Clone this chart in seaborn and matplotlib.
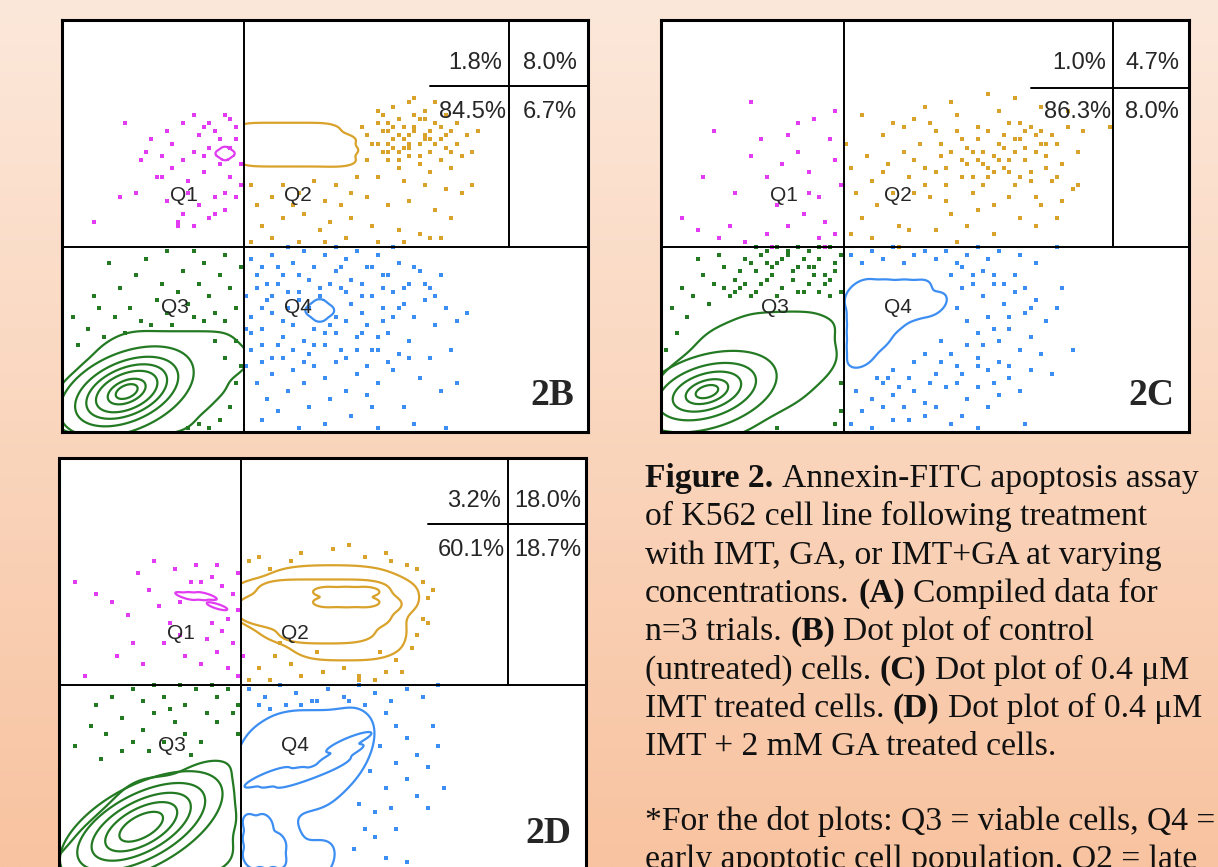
"""
Annexin-FITC / PI dot plots (panels 2B, 2C, 2D) with the figure caption.
Axes run 0-100 on both channels; quadrant gates sit at x=34.6, y=44.9.
"""

import numpy as np
import pandas as pd
import matplotlib
matplotlib.use("Agg")
import matplotlib.pyplot as plt
import seaborn as sns

# ── Data ──────────────────────────────────────────────────────────────────────
# quadrant percentages: [Q1, Q2, Q3, Q4]
PCT_2B = ["1.8%", "8.0%", "84.5%", "6.7%"]
PCT_2C = ["1.0%", "4.7%", "86.3%", "8.0%"]
PCT_2D = ["3.2%", "18.0%", "60.1%", "18.7%"]

# outlier dots, (x, y)
DOTS_2B_Q1 = [(12, 75), (6, 51), (11, 57), (14, 58), (18, 62), (16, 68), (20, 73), (23, 75), (25, 77),
              (27, 74), (28, 75), (29, 73), (31, 77), (32, 76), (33, 71), (32, 69), (28, 69), (25, 68),
              (23, 66), (21, 64), (19, 62), (24, 61), (27, 63), (30, 65), (32, 62), (34, 60), (31, 58),
              (29, 57), (26, 55), (23, 53), (22, 51), (25, 50), (28, 52), (31, 54), (33, 57), (34, 65),
              (22, 50), (29, 53), (19, 67), (15, 66), (27, 67), (30, 71), (33, 74), (26, 72), (21, 70),
              (17, 71), (24, 58), (20, 56)]
DOTS_2B_Q2 = [(57, 74), (58, 72), (59, 70), (60, 75), (61, 68), (62, 73), (63, 71), (64, 76), (65, 69),
              (66, 72), (67, 74), (68, 70), (69, 72), (70, 68), (71, 75), (72, 71), (73, 69), (74, 73),
              (75, 70), (76, 67), (77, 72), (78, 68), (79, 73), (62, 66), (64, 64), (66, 67), (68, 65),
              (70, 63), (72, 66), (74, 64), (60, 78), (63, 79), (66, 80), (69, 78), (71, 80), (67, 81),
              (58, 66), (56, 62), (60, 62), (65, 61), (69, 60), (73, 59), (76, 58), (78, 60), (55, 58),
              (50, 56), (45, 58), (40, 57), (37, 55), (42, 60), (48, 61), (52, 60), (58, 57), (62, 55),
              (66, 56), (71, 54), (74, 52), (38, 50), (42, 52), (46, 53), (51, 51), (55, 52), (59, 50),
              (64, 49), (68, 48), (72, 47), (36, 46), (40, 47), (45, 46), (50, 46), (54, 47), (60, 46),
              (65, 46), (70, 47), (63, 74), (61, 77), (67, 77), (65, 71), (69, 76), (73, 77), (75, 75),
              (62, 70), (64, 68), (36, 60), (44, 55), (53, 55), (49, 49), (60, 70), (61, 73), (62, 75),
              (63, 69), (64, 72), (65, 74), (66, 70), (67, 73), (68, 76), (69, 71), (70, 73), (71, 70),
              (72, 74), (73, 72), (74, 68), (66, 69), (68, 67), (70, 71), (62, 68), (64, 66)]
DOTS_2B_Q3 = [(5, 25), (8, 23), (3, 21), (10, 28), (13, 30), (15, 27), (18, 32), (20, 29), (22, 34),
              (24, 31), (26, 36), (28, 33), (30, 38), (32, 35), (34, 40), (33, 30), (31, 27), (29, 29),
              (27, 27), (25, 28), (21, 26), (17, 26), (12, 24), (7, 30), (11, 35), (14, 38), (19, 36),
              (23, 39), (27, 41), (31, 43), (25, 44), (16, 42), (20, 44), (9, 41), (29, 22), (31, 18),
              (33, 12), (32, 6), (30, 3), (28, 1), (33, 22), (34, 16), (26, 2), (24, 1), (6, 33), (2, 28)]
DOTS_2B_Q4 = [(36, 42), (38, 40), (40, 43), (42, 38), (44, 41), (46, 44), (48, 40), (50, 43), (52, 39),
              (54, 42), (56, 44), (58, 40), (60, 43), (62, 38), (64, 41), (66, 36), (68, 39), (70, 35),
              (72, 38), (37, 35), (39, 32), (41, 36), (43, 30), (45, 34), (47, 37), (53, 35), (55, 31),
              (57, 36), (59, 33), (61, 30), (63, 34), (65, 31), (67, 28), (69, 32), (71, 26), (73, 30),
              (75, 27), (77, 29), (36, 28), (38, 25), (40, 29), (42, 23), (44, 26), (46, 22), (48, 25),
              (50, 21), (52, 24), (54, 27), (56, 23), (58, 26), (60, 20), (62, 24), (64, 19), (66, 22),
              (70, 18), (74, 20), (36, 20), (38, 17), (40, 14), (42, 18), (44, 15), (46, 12), (48, 16),
              (50, 13), (52, 17), (54, 10), (56, 14), (58, 9), (60, 12), (63, 15), (68, 13), (37, 12),
              (39, 8), (41, 5), (43, 10), (47, 6), (51, 8), (55, 4), (59, 6), (65, 6), (72, 10), (75, 12),
              (38, 3), (45, 1), (50, 2), (60, 1), (67, 2), (73, 1), (35, 33), (35, 25), (35, 16), (49, 35),
              (45, 32), (51, 26), (57, 29), (61, 35), (41, 21), (47, 19), (53, 20), (43, 45), (52, 45),
              (63, 45), (37, 38), (39, 36), (41, 40), (43, 34), (45, 38), (47, 30), (49, 33), (51, 36),
              (53, 40), (55, 37), (57, 33), (59, 40), (61, 38), (63, 28), (65, 35), (67, 40), (69, 36),
              (71, 33), (36, 24), (38, 21), (40, 18), (42, 27), (44, 20), (46, 17), (48, 21), (50, 24),
              (52, 28), (54, 18), (56, 20), (58, 16), (60, 23), (62, 17), (64, 30), (66, 18), (38, 30),
              (40, 33), (54, 34), (57, 24), (59, 20), (61, 27)]

DOTS_2C_Q1 = [(17, 80), (10, 73), (4, 52), (8, 62), (13, 50), (14, 58), (17, 67), (20, 62), (22, 55),
              (24, 72), (26, 68), (28, 63), (30, 57), (31, 51), (32, 71), (33, 66), (34, 60), (26, 75),
              (29, 76), (33, 78), (24, 50), (20, 48), (16, 46), (11, 47), (7, 49), (27, 53), (30, 47),
              (33, 48), (23, 65), (19, 71), (21, 45), (31, 45), (28, 58)]
DOTS_2C_Q2 = [(35, 70), (36, 64), (37, 58), (38, 52), (36, 48), (39, 67), (40, 61), (41, 55), (42, 72),
              (43, 65), (44, 58), (45, 50), (46, 68), (47, 62), (48, 76), (49, 70), (50, 64), (51, 57),
              (52, 73), (53, 67), (54, 60), (55, 53), (56, 77), (57, 71), (58, 65), (59, 58), (60, 74),
              (61, 68), (62, 62), (63, 55), (64, 78), (65, 72), (66, 66), (67, 60), (68, 75), (69, 69),
              (70, 63), (71, 57), (72, 73), (73, 67), (74, 61), (75, 70), (76, 65), (77, 74), (78, 59),
              (79, 68), (80, 73), (47, 49), (52, 49), (58, 50), (63, 48), (68, 52), (40, 47), (44, 75),
              (50, 79), (55, 80), (62, 82), (67, 81), (72, 79), (77, 78), (56, 73), (58, 69), (60, 71),
              (62, 73), (64, 70), (66, 75), (68, 71), (70, 74), (72, 70), (74, 72), (65, 64), (67, 68),
              (69, 66), (71, 68), (73, 64), (75, 62), (61, 60), (63, 63), (57, 62), (53, 70), (51, 75),
              (46, 74), (42, 63), (48, 58), (54, 56), (60, 54), (66, 57), (72, 55), (76, 56), (71, 50),
              (75, 52), (45, 45), (56, 46), (38, 77), (85, 74), (79, 60), (55, 68), (57, 66), (59, 68),
              (61, 65), (63, 67), (65, 69), (67, 71), (69, 73), (71, 72), (73, 70), (59, 62), (60, 66),
              (62, 64), (64, 66), (66, 63), (68, 62), (70, 61), (52, 63), (50, 60), (48, 66), (54, 64)]
DOTS_2C_Q3 = [(2, 30), (4, 35), (6, 33), (8, 38), (10, 36), (12, 40), (14, 37), (16, 42), (18, 39),
              (20, 44), (22, 41), (24, 43), (26, 40), (28, 44), (30, 42), (32, 45), (34, 43), (13, 33),
              (15, 35), (17, 33), (19, 36), (21, 38), (23, 35), (25, 37), (27, 34), (29, 38), (31, 36),
              (33, 39), (34, 34), (24, 44), (11, 43), (7, 42), (5, 28), (3, 24), (9, 31), (20, 41),
              (26, 45), (30, 45), (18, 45), (22, 45), (28, 40), (32, 33), (1, 20), (34, 5), (33, 2),
              (22, 1), (34, 12), (15, 39), (17, 41), (19, 43), (21, 40), (23, 42), (25, 39), (27, 42),
              (29, 40), (31, 38), (33, 41), (16, 36), (18, 34), (20, 37), (22, 33), (26, 34), (28, 36),
              (30, 34), (32, 37), (12, 35), (14, 34)]
DOTS_2C_Q4 = [(36, 43), (38, 41), (40, 44), (42, 42), (44, 45), (46, 41), (48, 43), (50, 44), (52, 42),
              (54, 44), (56, 41), (58, 43), (60, 45), (62, 42), (64, 44), (68, 43), (71, 41), (75, 45),
              (55, 38), (57, 35), (59, 38), (61, 33), (63, 36), (65, 31), (67, 34), (69, 29), (71, 32),
              (73, 27), (75, 30), (56, 30), (58, 27), (60, 24), (62, 28), (64, 22), (66, 25), (68, 20),
              (70, 23), (72, 19), (60, 18), (62, 15), (64, 17), (66, 13), (68, 10), (70, 15), (74, 14),
              (52, 14), (54, 11), (56, 16), (58, 8), (60, 11), (62, 6), (64, 9), (42, 12), (44, 9),
              (46, 6), (48, 10), (50, 7), (40, 8), (38, 5), (37, 10), (36, 2), (40, 1), (44, 3), (50, 4),
              (55, 2), (60, 1), (69, 2), (78, 20), (76, 35), (53, 22), (50, 19), (48, 17), (44, 15),
              (41, 13), (57, 40), (59, 36), (61, 39), (63, 38), (65, 36), (67, 38), (69, 35), (70, 30),
              (66, 28), (63, 25), (61, 21), (58, 21), (55, 19), (57, 14), (60, 16), (63, 12), (66, 16),
              (56, 12), (53, 17), (51, 12), (47, 13), (45, 11), (43, 13), (47, 3), (52, 6), (57, 4),
              (42, 6)]

DOTS_2D_Q1 = [(3, 70), (7, 67), (10, 65), (13, 62), (15, 72), (17, 68), (19, 64), (21, 60), (23, 57),
              (25, 70), (27, 70), (29, 60), (31, 58), (33, 55), (18, 75), (22, 73), (26, 74), (29, 71),
              (31, 69), (33, 67), (34, 63), (20, 55), (24, 52), (27, 50), (30, 53), (32, 49), (34, 47),
              (14, 55), (11, 52), (5, 47), (16, 50), (28, 56), (32, 61), (35, 52), (23, 65), (30, 74),
              (34, 72)]
DOTS_2D_Q2 = [(38, 76), (46, 77), (52, 78), (58, 76), (63, 75), (66, 74), (68, 73), (69, 70), (70, 66),
              (69, 61), (68, 57), (67, 54), (64, 51), (62, 48), (60, 46), (57, 47), (54, 49), (50, 48),
              (46, 47), (44, 50), (41, 52), (38, 49), (36, 46), (40, 46), (49, 53), (42, 55), (57, 46),
              (71, 68), (70, 60), (62, 77), (55, 79), (44, 75), (40, 73), (36, 75), (65, 48), (61, 53)]
DOTS_2D_Q3 = [(6, 35), (9, 33), (12, 37), (14, 31), (16, 34), (18, 38), (20, 42), (22, 36), (24, 40),
              (26, 44), (28, 38), (30, 42), (32, 44), (34, 40), (10, 42), (14, 44), (18, 45), (8, 27),
              (12, 29), (17, 29), (20, 31), (24, 33), (27, 31), (30, 36), (33, 38), (21, 39), (25, 28),
              (7, 40), (3, 30), (34, 33), (29, 45), (23, 45), (16, 41)]
DOTS_2D_Q4 = [(36, 44), (39, 42), (42, 45), (45, 43), (48, 41), (51, 44), (54, 42), (57, 45), (60, 43),
              (63, 41), (66, 44), (69, 42), (72, 45), (62, 38), (64, 35), (66, 32), (68, 28), (70, 25),
              (72, 30), (64, 26), (66, 22), (68, 18), (70, 15), (62, 20), (60, 14), (58, 10), (60, 8),
              (64, 10), (56, 5), (62, 3), (66, 2), (38, 40), (40, 39), (43, 40), (46, 40), (49, 41),
              (55, 41), (58, 40), (61, 30), (63, 15), (57, 16), (59, 24), (71, 35), (73, 20)]

# dense populations behind the contour lines, (x, y) or (x, y, weight)
CORE_2B_Q1 = [(30, 67.6), (32, 67.6), (31, 68.5), (31, 66.7)]
CORE_2B_Q2 = [(36, 73.5), (39.5, 73.5), (43, 73.5), (46.5, 73.5), (50, 73.5),
              (36, 71), (39.5, 71), (43, 71), (46.5, 71), (50, 71), (53, 71),
              (36, 68.5), (39.5, 68.5), (43, 68.5), (46.5, 68.5), (50, 68.5), (53.5, 68.5),
              (36, 66), (39.5, 66), (43, 66), (46.5, 66), (50, 66), (53, 66)]
CORE_2B_Q3_OUT = [(2, 2), (5.5, 2), (9, 2), (12.5, 2), (16, 2), (19.5, 2), (22.5, 2),
                  (2, 5.5), (5.5, 5.5), (9, 5.5), (12.5, 5.5), (16, 5.5), (19.5, 5.5), (23, 5.5),
                  (25.5, 6.5),
                  (1, 9), (4, 9), (7.5, 9), (11, 9), (14.5, 9), (18, 9), (21.5, 9), (25, 9), (28.5, 10),
                  (3, 12.5), (7, 12.5), (10.5, 12.5), (14, 12.5), (17.5, 12.5), (21, 12.5), (24.5, 12.5),
                  (28, 12.5), (6, 16), (10, 16), (13.5, 16), (17, 16), (20.5, 16), (24, 16), (27.5, 16),
                  (30.5, 16.5), (32, 15.5), (32, 18),
                  (9, 19.5), (13.5, 19.5), (17, 19.5), (20.5, 19.5), (24, 19.5), (27.5, 19.5), (30.5, 20),
                  (12, 22), (15, 22), (18.5, 22), (22, 22), (25.5, 22), (29, 22)]
CORE_2B_Q3_IN = [(12.3, 9.8, 4), (15.5, 12.1, 2), (9.1, 7.6, 2), (10.9, 11.8, 2), (13.7, 7.8, 2)]
CORE_2B_Q4 = [(47.5, 29.5), (50.5, 29.5), (49, 28), (49, 31)]

CORE_2C_Q3_OUT = [(2, 2), (5.5, 2), (9, 2), (12.5, 2), (15, 2),
                  (2, 5.5), (5.5, 5.5), (9, 5.5), (12.5, 5.5), (16, 5.5), (19.5, 5.5),
                  (2, 9), (5.5, 9), (9, 9), (12.5, 9), (16, 9), (19.5, 9), (23, 9), (24.5, 9.5),
                  (2, 12.5), (5.5, 12.5), (9, 12.5), (12.5, 12.5), (16, 12.5), (19.5, 12.5), (23, 12.5),
                  (26.5, 12.5), (28.5, 14.5),
                  (5, 16), (8.5, 16), (12, 16), (15.5, 16), (19, 16), (22.5, 16), (26, 16), (29.5, 16.5),
                  (9, 19.5), (12.5, 19.5), (16, 19.5), (19.5, 19.5), (23, 19.5), (26.5, 19.5), (29.5, 19.5),
                  (10.5, 23), (14, 23), (17.5, 23), (21, 23), (24.5, 23), (28, 23), (29.5, 24),
                  (16, 26), (20, 26), (23.5, 26), (27, 26)]
CORE_2C_Q3_IN = [(8.7, 9.8, 4), (11.8, 11.3, 2), (5.6, 8.3, 2), (7.8, 11.7, 2), (9.6, 7.9, 2)]
CORE_2C_Q4 = [(38, 18.5), (38, 22), (38, 25.5), (38, 29), (38, 32.5), (38, 34), (41.5, 34), (45, 34),
              (48.5, 34), (51.5, 31), (48, 30), (44.5, 30), (41.5, 30), (41.5, 26), (44, 27), (41, 22.5)]

CORE_2D_Q1 = [(24, 66.5), (26, 66.5), (28, 66.5), (30, 64)]
CORE_2D_Q2_OUT = [(48, 54), (51.5, 54), (55, 54), (58.5, 54), (61, 55),
                  (42, 58), (45.5, 57.5), (49, 57.5), (52.5, 57.5), (56, 57.5), (59.5, 57.5), (61.5, 58),
                  (37, 62), (40.5, 61), (44, 61), (47.5, 61), (51, 61), (54.5, 61), (58, 61), (61.5, 61),
                  (37, 64.5), (40.5, 64.5), (44, 64.5), (47.5, 64.5), (51, 64.5), (54.5, 64.5), (58, 64.5),
                  (61.5, 64.5), (64, 65),
                  (37, 67.5), (40.5, 68), (44, 68), (47.5, 68), (51, 68), (54.5, 68), (58, 68), (61.5, 68),
                  (64, 68),
                  (44, 70.5), (48, 71), (52, 71), (56, 71), (60, 70.5)]
CORE_2D_Q2_MID = [(45.5, 57.5), (49, 57.5), (52.5, 57.5), (56, 57.5),
                  (38, 62), (41.5, 61), (45, 61), (48.5, 61), (52, 61), (55.5, 61), (59, 61),
                  (38, 64.5), (41.5, 64.5), (45, 64.5), (48.5, 64.5), (52, 64.5), (55.5, 64.5), (59, 64.5),
                  (61, 64.5),
                  (41.5, 68), (45, 68), (48.5, 68), (52, 68), (55.5, 68), (59, 68)]
CORE_2D_Q2_IN = [(51, 65), (51, 67.5), (54.5, 65), (54.5, 67.5), (58, 65), (58, 67.5)]
CORE_2D_Q3_OUT = [(2, 2), (5.5, 2), (9, 2), (12.5, 2), (16, 2), (19.5, 2), (23, 2), (26.5, 2), (29.5, 2),
                  (5, 5.5), (8.5, 5.5), (12, 5.5), (15.5, 5.5), (19, 5.5), (22.5, 5.5), (26, 5.5),
                  (29.5, 5.5),
                  (7, 9), (10.5, 9), (14, 9), (17.5, 9), (21, 9), (24.5, 9), (28, 9), (29.5, 10),
                  (10, 12.5), (13.5, 12.5), (17, 12.5), (20.5, 12.5), (24, 12.5), (27.5, 12.5), (29.5, 13),
                  (13, 16), (16.5, 16), (20, 16), (23.5, 16), (27, 16), (29.5, 16.5),
                  (15.5, 19.5), (19, 19.5), (22.5, 19.5), (26, 19.5), (29.5, 20),
                  (26, 23), (29.5, 24)]
CORE_2D_Q3_IN = [(15.6, 10.5, 4), (19.9, 13.9, 2), (11.3, 7.1, 2), (13.9, 12.7, 2), (17.3, 8.3, 2)]
CORE_2D_Q4_OUT = [(37, 2), (40.5, 2), (44, 2), (47.5, 2), (50, 2),
                  (37, 5.5), (40.5, 5.5), (42.5, 6), (37, 9), (40, 9.5), (37, 12.5), (40, 13),
                  (37, 16), (40.5, 16.5),
                  (37, 19.5), (40.5, 19.5), (44, 19.5), (47.5, 19.5), (51, 20.5),
                  (37, 23), (40.5, 23), (44, 23), (47.5, 23), (51, 23), (54, 25),
                  (37, 26.5), (40.5, 26.5), (44, 26.5), (47.5, 26.5), (51, 26.5), (54.5, 26.5), (56, 29),
                  (37, 30), (40.5, 30), (44, 30), (47.5, 30), (51, 30), (54.5, 30), (56.5, 32),
                  (40.5, 32.5), (44, 33.5), (47.5, 33.5), (51, 33.5), (54.5, 34.5)]
CORE_2D_Q4_IN = [(39.5, 22.5), (42.5, 22.5), (45.5, 22.5), (48, 23.5), (51, 25), (53.5, 28), (55, 31)]
CORE_2D_Q4_LOW = [(36.5, 3), (36.5, 7), (36.5, 11), (39, 3), (39, 7), (39, 11), (41.5, 3), (41.5, 6.5)]

CAPTION = [
    [("Figure 2.", "bold"), ("Annexin-FITC apoptosis assay", "normal")],
    [("of K562 cell line following treatment", "normal")],
    [("with IMT, GA, or IMT+GA at varying", "normal")],
    [("concentrations.", "normal"), ("(A)", "bold"), ("Compiled data for", "normal")],
    [("n=3 trials.", "normal"), ("(B)", "bold"), ("Dot plot of control", "normal")],
    [("(untreated) cells.", "normal"), ("(C)", "bold"), ("Dot plot of 0.4 μM", "normal")],
    [("IMT treated cells.", "normal"), ("(D)", "bold"), ("Dot plot of 0.4 μM", "normal")],
    [("IMT + 2 mM GA treated cells.", "normal")],
    [],
    [("*For the dot plots: Q3 = viable cells, Q4 =", "normal")],
    [("early apoptotic cell population, Q2 = late", "normal")],
]

# ── Style ─────────────────────────────────────────────────────────────────────
W, H = 1218, 867
GX, GY = 34.6, 44.9
COLORS = {"Q1": "#e23cf2", "Q2": "#d9a22a", "Q3": "#237a23", "Q4": "#3d8ef2"}
QUAD_BOX = {"Q1": ((0, GX), (GY, 100)), "Q2": ((GX, 100), (GY, 100)),
            "Q3": ((0, GX), (0, GY)), "Q4": ((GX, 100), (0, GY))}
LABEL_POS = {"Q1": (23.2, 57.3), "Q2": (44.8, 57.3), "Q3": (21.5, 30.3), "Q4": (44.8, 30.3)}
PCT_SIZE = 17

sns.set_style("white")
plt.rcParams["font.family"] = ["Liberation Sans", "DejaVu Sans"]


def add_background(fig):
    bg = fig.add_axes([0, 0, 1, 1], zorder=-10)
    top = np.array([252, 232, 218]) / 255
    bot = np.array([248, 195, 160]) / 255
    t = np.linspace(0, 1, 300)[:, None, None]
    grad = top * (1 - t) + bot * t
    bg.imshow(np.repeat(grad, 2, axis=1), aspect="auto", extent=[0, 1, 0, 1])
    bg.set_axis_off()


def draw_panel(fig, rect, tag, pcts, dots, contours, table_x=85.0, table_y=84.0, table_x0=70.0):
    ax = fig.add_axes(rect)
    ax.set_facecolor("white")

    for quad, pts in dots.items():
        df = pd.DataFrame(pts, columns=["x", "y"])
        sns.scatterplot(data=df, x="x", y="y", color=COLORS[quad], s=6, marker="s",
                        linewidth=0, ax=ax, legend=False)

    for quad, pts, levels, bw in contours:
        df = pd.DataFrame([p if len(p) == 3 else (*p, 1) for p in pts], columns=["x", "y", "w"])
        sns.kdeplot(data=df, x="x", y="y", weights="w", levels=levels, bw_adjust=bw,
                    color=COLORS[quad], linewidths=1.6, clip=QUAD_BOX[quad],
                    gridsize=200, ax=ax)

    # quadrant gates and percentage table
    ax.axvline(GX, color="black", lw=1.4)
    ax.axhline(GY, color="black", lw=1.4)
    ax.axvline(table_x, ymin=GY / 100, ymax=1, color="black", lw=1.4)
    ax.axhline(table_y, xmin=table_x0 / 100, xmax=1, color="black", lw=1.4)

    ax.text(table_x - 1.4, 89.6, pcts[0], ha="right", va="center", fontsize=PCT_SIZE)
    ax.text((table_x + 100) / 2 + 0.2, 89.6, pcts[1], ha="center", va="center", fontsize=PCT_SIZE)
    ax.text(table_x - 0.5, 77.7, pcts[2], ha="right", va="center", fontsize=PCT_SIZE)
    ax.text((table_x + 100) / 2 + 0.2, 77.7, pcts[3], ha="center", va="center", fontsize=PCT_SIZE)

    for quad, (lx, ly) in LABEL_POS.items():
        ax.text(lx, ly, quad, ha="center", va="center", fontsize=15)

    ax.text(97.3, 6.5, tag, ha="right", va="baseline", fontsize=27, fontweight="bold",
            family="Liberation Serif")

    ax.set_xlim(0, 100)
    ax.set_ylim(0, 100)
    ax.set_xticks([])
    ax.set_yticks([])
    ax.set_xlabel("")
    ax.set_ylabel("")
    for sp in ax.spines.values():
        sp.set_visible(True)
        sp.set_color("black")
        sp.set_linewidth(2.2)
    return ax


def draw_caption(fig, x0, baselines, size=24.2):
    renderer = fig.canvas.get_renderer()

    a = fig.text(0, 0, "a a", fontsize=size, family="Liberation Serif")
    b = fig.text(0, 0, "aa", fontsize=size, family="Liberation Serif")
    gap = a.get_window_extent(renderer).width - b.get_window_extent(renderer).width
    a.remove()
    b.remove()

    for runs, base in zip(CAPTION, baselines):
        x = x0
        for text, weight in runs:
            t = fig.text(x / W, 1 - base / H, text, fontsize=size, fontweight=weight,
                         family="Liberation Serif", color="#111111", va="baseline")
            x += t.get_window_extent(renderer).width + gap


fig = plt.figure(figsize=(W / 100, H / 100), dpi=100)
add_background(fig)

RINGS_2B = [0.1, 0.28, 0.47, 0.65, 0.85, 0.947]
RINGS_2C = [0.1, 0.32, 0.59, 0.82, 0.946]
RINGS_2D = [0.08, 0.22, 0.42, 0.64, 0.85]

draw_panel(fig, [62 / W, 1 - 432 / H, 526 / W, 412 / H], "2B", PCT_2B,
           {"Q1": DOTS_2B_Q1, "Q2": DOTS_2B_Q2, "Q3": DOTS_2B_Q3, "Q4": DOTS_2B_Q4},
           [("Q1", CORE_2B_Q1, [0.2], 1.0),
            ("Q2", CORE_2B_Q2, [0.05], 0.6),
            ("Q3", CORE_2B_Q3_OUT, [0.04], 0.6),
            ("Q3", CORE_2B_Q3_IN, RINGS_2B, 3.5),
            ("Q4", CORE_2B_Q4, [0.2], 1.0)])

draw_panel(fig, [661 / W, 1 - 432 / H, 528 / W, 412 / H], "2C", PCT_2C,
           {"Q1": DOTS_2C_Q1, "Q2": DOTS_2C_Q2, "Q3": DOTS_2C_Q3, "Q4": DOTS_2C_Q4},
           [("Q3", CORE_2C_Q3_OUT, [0.04], 0.7),
            ("Q3", CORE_2C_Q3_IN, RINGS_2C, 4.0),
            ("Q4", CORE_2C_Q4, [0.05], 0.6)],
           table_x=85.7, table_y=83.5)

draw_panel(fig, [59 / W, 1 - 870 / H, 527 / W, 412 / H], "2D", PCT_2D,
           {"Q1": DOTS_2D_Q1, "Q2": DOTS_2D_Q2, "Q3": DOTS_2D_Q3, "Q4": DOTS_2D_Q4},
           [("Q1", CORE_2D_Q1, [0.2], 0.6),
            ("Q2", CORE_2D_Q2_OUT, [0.04], 0.7),
            ("Q2", CORE_2D_Q2_MID, [0.05], 0.7),
            ("Q2", CORE_2D_Q2_IN, [0.05], 0.6),
            ("Q3", CORE_2D_Q3_OUT, [0.04], 0.7),
            ("Q3", CORE_2D_Q3_IN, RINGS_2D, 3.0),
            ("Q4", CORE_2D_Q4_OUT, [0.04], 0.7),
            ("Q4", CORE_2D_Q4_IN, [0.05], 0.5),
            ("Q4", CORE_2D_Q4_LOW, [0.05], 0.6)],
           table_x=85.2, table_y=84.0)

draw_caption(fig, 645, [487, 525.3, 563.6, 601.9, 640.2, 678.5, 716.8, 755.1, 0, 830, 868.5])

fig.savefig("out.png", dpi=100)
plt.close(fig)
print("[INFO] saved out.png")
